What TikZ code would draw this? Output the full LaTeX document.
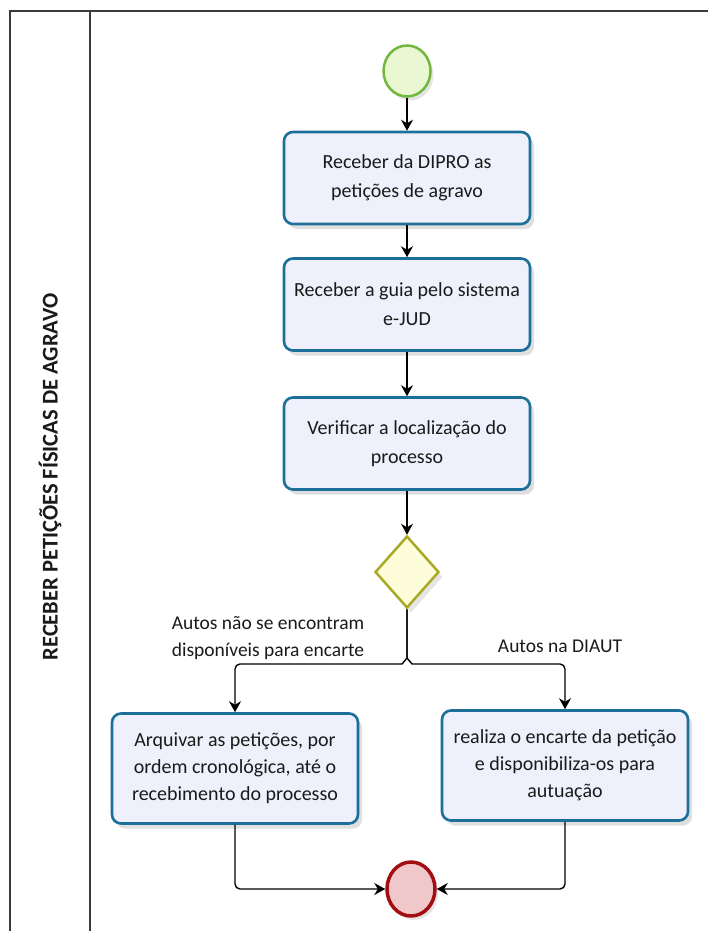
\documentclass[tikz,border=0pt]{standalone}
\usepackage{fontspec}
\setmainfont{Carlito}
\usetikzlibrary{arrows.meta,shapes.geometric,shadows}
\definecolor{boxblue}{HTML}{1C6F98}
\definecolor{boxfill}{HTML}{EEF1FB}
\definecolor{startline}{HTML}{72B83C}
\definecolor{startfill}{HTML}{E9F8D3}
\definecolor{endline}{HTML}{A30E12}
\definecolor{endfill}{HTML}{F1C8CA}
\definecolor{gwline}{HTML}{A9A926}
\definecolor{gwfill}{HTML}{FDFDDA}
\definecolor{framec}{HTML}{3A3A3A}
\definecolor{txt}{HTML}{1A1A1A}
\tikzset{
  task/.style={rectangle, rounded corners=9pt, draw=boxblue, line width=2.6pt,
    fill=boxfill, minimum width=246pt, minimum height=92pt, align=center,
    text=txt, font=\fontsize{20}{29}\selectfont, inner sep=4pt,
    drop shadow={shadow xshift=4pt, shadow yshift=-5pt, opacity=0.25, fill=gray}},
  tasktall/.style={task, minimum height=110pt, font=\fontsize{20}{27}\selectfont},
  startev/.style={ellipse, draw=startline, line width=2.5pt, fill=startfill,
    minimum width=47pt, minimum height=51pt, inner sep=0pt,
    drop shadow={shadow xshift=3pt, shadow yshift=-4pt, opacity=0.2, fill=gray}},
  endev/.style={ellipse, draw=endline, line width=3.5pt, fill=endfill,
    minimum width=48pt, minimum height=54pt, inner sep=0pt,
    drop shadow={shadow xshift=3pt, shadow yshift=-4pt, opacity=0.2, fill=gray}},
  gateway/.style={diamond, draw=gwline, line width=2.5pt, fill=gwfill,
    minimum width=64pt, minimum height=72pt, inner sep=0pt,
    drop shadow={shadow xshift=4pt, shadow yshift=-5pt, opacity=0.2, fill=gray}},
  flow/.style={line width=1.4pt, black, -{Stealth[length=11pt,width=12pt]}},
  lbl/.style={align=center, text=txt, font=\fontsize{19.5}{27}\selectfont},
  frame/.style={line width=2pt, draw=framec},
}
\begin{document}
\begin{tikzpicture}[x=1pt,y=-1pt]
\useasboundingbox (0,0) rectangle (708,931);
\fill[white] (0,0) rectangle (708,931);
% pool frame
\draw[frame] (10,931) -- (10,11) -- (708,11);
\draw[frame] (90,11) -- (90,931);
\node[rotate=90, font=\bfseries\fontsize{22.5}{22.5}\selectfont, text=txt] (lane) at (50,477) {RECEBER PETIÇÕES FÍSICAS DE AGRAVO};

% nodes
\node[startev] (s) at (407,71) {};
\node[task] (t1) at (407,178) {Receber da DIPRO as\\petições de agravo};
\node[task] (t2) at (407,304.5) {Receber a guia pelo sistema\\e-JUD};
\node[task] (t3) at (407,443.5) {Verificar a localização do\\processo};
\node[gateway] (g) at (407,572) {};
\node[tasktall] (t4) at (235,768.5) {Arquivar as petições, por\\ordem cronológica, até o\\recebimento do processo};
\node[tasktall] (t5) at (565,765.5) {realiza o encarte da petição\\e disponibiliza-os para\\autuação};
\node[endev] (e) at (411,889) {};

\node[lbl] (l1) at (268,638) {Autos não se encontram\\disponíveis para encarte};
\node[lbl] (l2) at (560,646) {Autos na DIAUT};

% connectors
\draw[flow] (s) -- (t1);
\draw[flow] (t1) -- (t2);
\draw[flow] (t2) -- (t3);
\draw[flow] (t3) -- (g);
\draw[flow] (g.south) -- (407,658) -- (402,664) [rounded corners=5pt] -- (235,664) -- (t4.north);
\draw[flow] (g.south) -- (407,658) -- (412,664) [rounded corners=5pt] -- (565,664) -- (t5.north);
\draw[flow, rounded corners=5pt] (t4.south) |- (e.west);
\draw[flow, rounded corners=5pt] (t5.south) |- (e.east);
\end{tikzpicture}
\end{document}
